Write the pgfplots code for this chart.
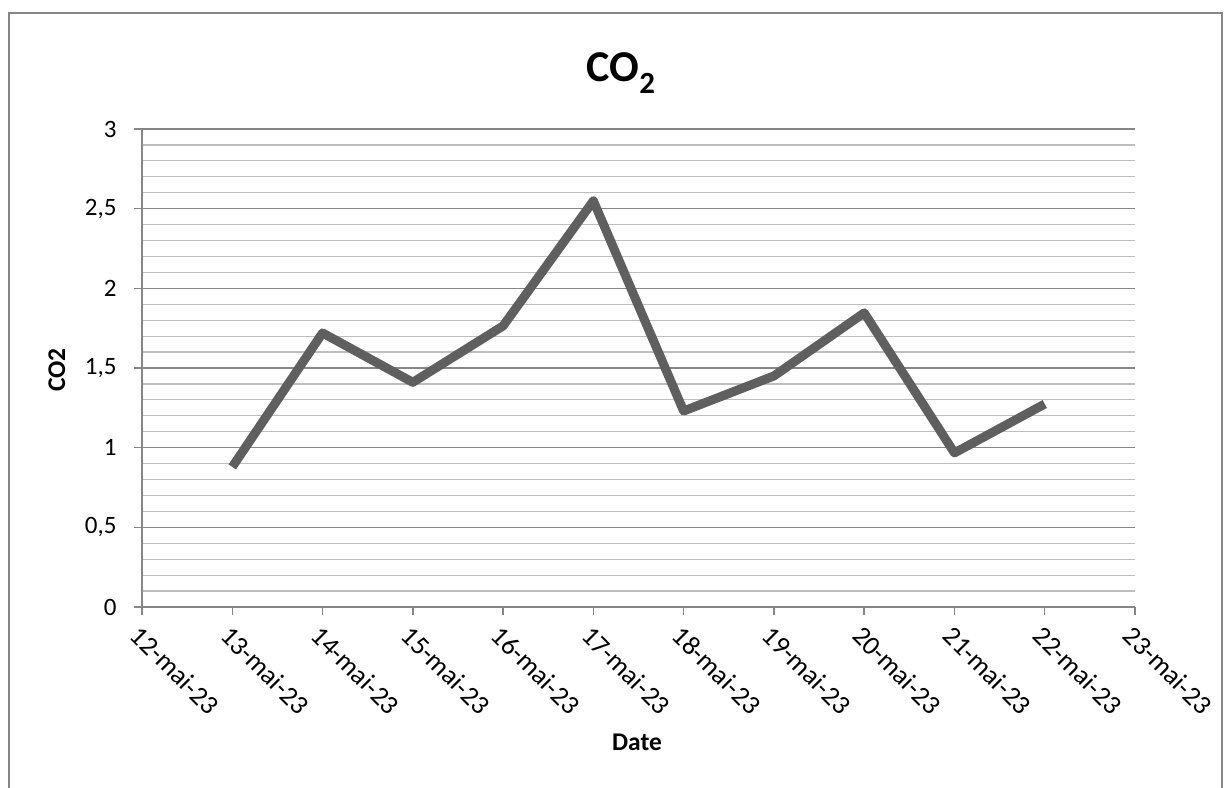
\documentclass[border=0pt]{standalone}
\usepackage{pgfplots}
\pgfplotsset{compat=1.18}
\usepackage{fontspec}
\setmainfont{Carlito}
\definecolor{seriesgray}{RGB}{95,95,95}
\definecolor{axisgray}{RGB}{134,134,134}
\definecolor{minorgray}{RGB}{190,190,190}
\newcommand{\tickfont}{\fontsize{25bp}{30bp}\selectfont}
\newcommand{\datefont}{\fontsize{27bp}{32bp}\selectfont}
\begin{document}
\begin{tikzpicture}[x=1bp,y=1bp]
\useasboundingbox (0,0) rectangle (1231,788);
% chart frame
\draw[axisgray, line width=2bp] (8.5,775) rectangle (1221.5,-20);
\begin{axis}[
  at={(142bp,181bp)}, anchor=south west,
  width=993bp, height=478bp, scale only axis,
  xmin=0, xmax=11, ymin=0, ymax=3,
  xtick={0,...,11},
  xticklabels={12-mai-23,13-mai-23,14-mai-23,15-mai-23,16-mai-23,17-mai-23,
               18-mai-23,19-mai-23,20-mai-23,21-mai-23,22-mai-23,23-mai-23},
  ytick={0,0.5,1,1.5,2,2.5,3},
  minor y tick num=4,
  ymajorgrids, yminorgrids,
  major grid style={axisgray, line width=1.2bp},
  minor grid style={minorgray, line width=1.2bp},
  axis x line*=bottom, axis y line*=left,
  axis line style={axisgray, line width=1.5bp, -},
  tick align=outside,
  major tick length=8bp, minor tick length=0pt,
  tick style={axisgray, line width=1.5bp},
  /pgf/number format/.cd, use comma, assume math mode=true,
  /pgfplots/.cd,
  yticklabel style={font=\tickfont, text=black, xshift=-14bp},
  xticklabel style={font=\datefont, text=black, rotate=-45, anchor=north west,
                    xshift=3bp, yshift=-3bp},
  clip=false,
]
\addplot[seriesgray, line width=9bp, line join=round, line cap=butt] coordinates {
  (1,0.879) (2,1.72) (3,1.41) (4,1.764) (5,2.549)
  (6,1.23) (7,1.45) (8,1.846) (9,0.967) (10,1.274)
};
\end{axis}
% titles
\node[anchor=base, font=\fontsize{44bp}{50bp}\selectfont\bfseries] at (621,706) {CO\textsubscript{2}};
\node[anchor=base, font=\fontsize{25.5bp}{30bp}\selectfont\bfseries] at (637,37) {Date};
\node[anchor=base, rotate=90, font=\fontsize{25.5bp}{30bp}\selectfont\bfseries] at (65,418) {CO2};
\end{tikzpicture}
\end{document}
